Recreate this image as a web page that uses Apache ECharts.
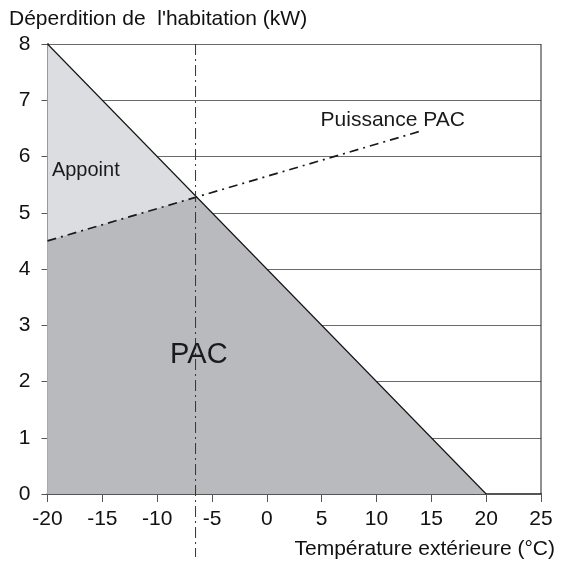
<!DOCTYPE html>
<html>
<head>
<meta charset="utf-8">
<script src="https://cdn.jsdelivr.net/npm/echarts@6/dist/echarts.min.js"></script>
<style>
html,body{margin:0;padding:0;background:#fff;}
#main{width:563px;height:563px;}
</style>
</head>
<body>
<div id="main"></div>
<script>
// données
var deperdition = [[-20, 8], [20, 0]];
var puissancePac = [[-20, 4.5], [14, 6.45]];
var equilibre = [-6.4, 5.28];          // point de bivalence
var tempBase = -6.5;                   // ligne verticale
var xMin = -20, xMax = 25, xStep = 5;
var yMin = 0, yMax = 8, yStep = 1;
var textes = [
	{name: 'Appoint', value: [-19.6, 5.76], size: 20, align: 'left'},
	{name: 'PAC', value: [-6.2, 2.47], size: 29, align: 'center'},
	{name: 'Puissance PAC', value: [4.9, 6.65], size: 21, align: 'left'}
];

var FONT = 'Liberation Sans, Arial, sans-serif';

var option = {
	animation: false,
	grid: {left: 47.5, right: 22, top: 44, bottom: 69},
	xAxis: {
		type: 'value',
		min: xMin, max: xMax, interval: xStep,
		axisLine: {onZero: false, lineStyle: {color: '#555', width: 2}},
		axisTick: {show: true, length: 8, lineStyle: {color: '#555'}},
		axisLabel: {color: '#111', fontSize: 21, fontFamily: FONT, margin: 15},
		splitLine: {show: false}
	},
	yAxis: {
		type: 'value',
		min: yMin, max: yMax, interval: yStep,
		axisLine: {show: true, onZero: false, lineStyle: {color: '#555', width: 2}},
		axisTick: {show: true, length: 6, lineStyle: {color: '#555'}},
		axisLabel: {color: '#111', fontSize: 21, fontFamily: FONT, margin: 17},
		splitLine: {lineStyle: {color: '#6a6a6a', width: 1}}
	},
	graphic: [
		{type: 'text', left: 9, top: 9, style: {text: "Déperdition de  l'habitation (kW)", fill: '#111', font: '21px ' + FONT}},
		{type: 'text', right: 8, top: 539, style: {text: 'Température extérieure (°C)', fill: '#111', font: '21px ' + FONT}}
	],
	series: [
		{ // zone appoint
			type: 'line', data: [deperdition[0], equilibre],
			symbol: 'none', lineStyle: {width: 0},
			areaStyle: {color: '#dcdde0', opacity: 1}, z: 1
		},
		{ // zone PAC
			type: 'line', data: [puissancePac[0], equilibre, deperdition[1]],
			symbol: 'none', lineStyle: {width: 0},
			areaStyle: {color: '#b9babd', opacity: 1}, z: 2
		},
		{
			type: 'line', data: deperdition,
			symbol: 'none', lineStyle: {color: '#111', width: 1.1}, z: 5
		},
		{
			type: 'line', data: puissancePac,
			symbol: 'none', lineStyle: {color: '#1a1a1a', width: 1.7, type: [9, 5, 2, 5]}, z: 5
		},
		{
			type: 'line', data: [[tempBase, yMax], [tempBase, -1.12]],
			clip: false, symbol: 'none',
			lineStyle: {color: '#333', width: 1, type: [11, 4, 2, 4]}, z: 6
		},
		{ // bord droit
			type: 'line', data: [[xMax, yMin], [xMax, yMax]],
			symbol: 'none', lineStyle: {color: '#222', width: 1}, z: 6
		},
		{
			type: 'scatter', symbolSize: 0, z: 7,
			itemStyle: {opacity: 1},
			data: textes.map(function (t) {
				return {
					name: t.name, value: t.value,
					label: {
						show: true, position: 'inside', formatter: '{b}',
						color: '#1a1a1a', fontFamily: FONT, fontSize: t.size,
						align: t.align, verticalAlign: 'middle',
						textBorderWidth: 0, opacity: 1
					}
				};
			})
		}
	]
};

var chart = echarts.init(document.getElementById('main'));
chart.setOption(option);
</script>
</body>
</html>
